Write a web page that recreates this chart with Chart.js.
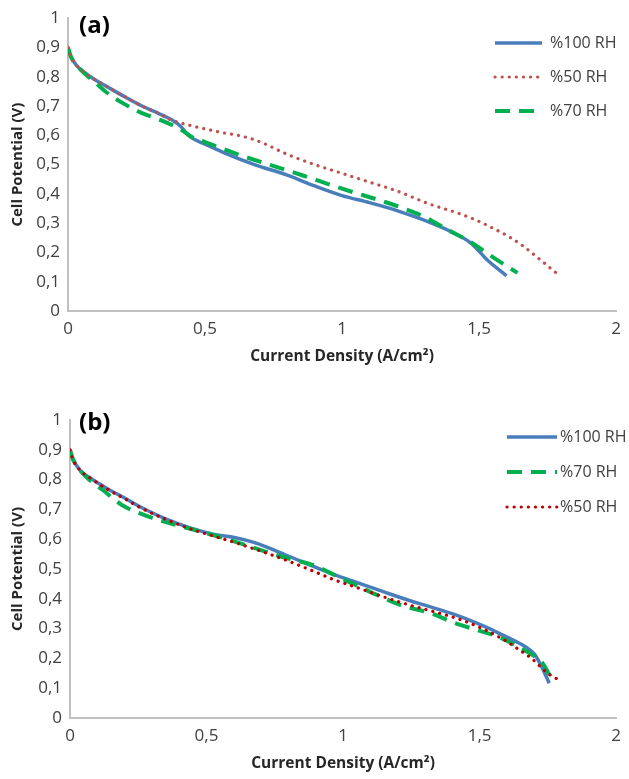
<!DOCTYPE html>
<html>
<head>
<meta charset="utf-8">
<script src="https://cdn.jsdelivr.net/npm/chart.js@4"></script>
<style>
  html, body { margin: 0; padding: 0; background: #fff; }
  .box { position: absolute; left: 0; width: 629px; }
  #boxA { top: 0; height: 375px; }
  #boxB { top: 380px; height: 399px; }
</style>
</head>
<body>
<div class="box" id="boxA"><canvas id="chartA" width="629" height="375"></canvas></div>
<div class="box" id="boxB"><canvas id="chartB" width="629" height="399"></canvas></div>
<script>
// panel (a)
const rh100A_x = [0, 0.01, 0.03, 0.06, 0.09, 0.15, 0.21, 0.27, 0.33, 0.38, 0.41, 0.43, 0.45, 0.5, 0.57, 0.68, 0.8, 0.9, 1.0, 1.1, 1.2, 1.3, 1.4, 1.47, 1.53, 1.6];
const rh100A_y = [0.90, 0.87, 0.84, 0.815, 0.795, 0.762, 0.73, 0.70, 0.675, 0.652, 0.632, 0.61, 0.592, 0.57, 0.54, 0.50, 0.464, 0.427, 0.394, 0.37, 0.343, 0.31, 0.27, 0.232, 0.174, 0.12];
const rh50A_x = [0, 0.01, 0.03, 0.06, 0.09, 0.15, 0.21, 0.27, 0.33, 0.37, 0.44, 0.51, 0.57, 0.62, 0.67, 0.72, 0.8, 0.9, 1.0, 1.1, 1.2, 1.32, 1.42, 1.49, 1.55, 1.61, 1.66, 1.71, 1.79];
const rh50A_y = [0.90, 0.87, 0.84, 0.815, 0.795, 0.762, 0.73, 0.70, 0.675, 0.655, 0.635, 0.62, 0.608, 0.60, 0.588, 0.57, 0.535, 0.50, 0.47, 0.44, 0.41, 0.365, 0.335, 0.31, 0.283, 0.253, 0.222, 0.185, 0.123];
const rh70A_x = [0, 0.01, 0.03, 0.06, 0.1, 0.14, 0.2, 0.27, 0.33, 0.38, 0.42, 0.45, 0.5, 0.62, 0.74, 0.86, 0.95, 1.04, 1.13, 1.22, 1.3, 1.38, 1.47, 1.55, 1.64];
const rh70A_y = [0.90, 0.87, 0.84, 0.812, 0.78, 0.747, 0.71, 0.676, 0.655, 0.635, 0.615, 0.595, 0.577, 0.535, 0.498, 0.462, 0.433, 0.406, 0.38, 0.352, 0.322, 0.28, 0.235, 0.184, 0.13];

// panel (b)
const rh100B_x = [0, 0.01, 0.036, 0.07, 0.14, 0.2, 0.26, 0.35, 0.44, 0.52, 0.61, 0.67, 0.73, 0.79, 0.88, 0.97, 1.06, 1.15, 1.24, 1.32, 1.4, 1.49, 1.57, 1.63, 1.67, 1.7, 1.72, 1.755];
const rh100B_y = [0.90, 0.87, 0.832, 0.808, 0.768, 0.738, 0.707, 0.668, 0.638, 0.618, 0.604, 0.59, 0.57, 0.547, 0.513, 0.48, 0.452, 0.423, 0.395, 0.373, 0.35, 0.318, 0.285, 0.258, 0.238, 0.215, 0.185, 0.117];
const rh70B_x = [0, 0.01, 0.036, 0.07, 0.12, 0.19, 0.28, 0.36, 0.44, 0.52, 0.61, 0.72, 0.8, 0.89, 0.98, 1.06, 1.14, 1.22, 1.32, 1.4, 1.49, 1.57, 1.65, 1.7, 1.73, 1.77];
const rh70B_y = [0.90, 0.87, 0.832, 0.8, 0.765, 0.715, 0.678, 0.655, 0.635, 0.615, 0.59, 0.557, 0.535, 0.513, 0.475, 0.44, 0.406, 0.376, 0.352, 0.322, 0.295, 0.272, 0.235, 0.208, 0.185, 0.12];
const rh50B_x = [0, 0.01, 0.036, 0.07, 0.14, 0.2, 0.26, 0.35, 0.44, 0.52, 0.61, 0.66, 0.72, 0.79, 0.88, 0.97, 1.06, 1.15, 1.24, 1.32, 1.43, 1.51, 1.59, 1.64, 1.69, 1.75, 1.79];
const rh50B_y = [0.90, 0.87, 0.832, 0.808, 0.766, 0.736, 0.705, 0.667, 0.635, 0.612, 0.587, 0.572, 0.553, 0.53, 0.497, 0.463, 0.435, 0.406, 0.38, 0.36, 0.33, 0.30, 0.262, 0.232, 0.2, 0.15, 0.128];

const xTicks = [0, 0.5, 1, 1.5, 2];
const yTicks = [0, 0.1, 0.2, 0.3, 0.4, 0.5, 0.6, 0.7, 0.8, 0.9, 1];

const pts = (xs, ys) => xs.map((x, i) => ({ x, y: ys[i] }));
const fmt = v => String(Math.round(v * 10) / 10).replace('.', ',');

const styles = {
    '%100 RH': { borderColor: '#4a7ebb', borderWidth: 3.5, borderDash: [], borderCapStyle: 'butt', order: 2 },
    '%50 RH': { borderColor: '#c0504d', borderWidth: 3.2, borderDash: [0.1, 7], borderCapStyle: 'round', order: 0 },
    '%70 RH': { borderColor: '#00b050', borderWidth: 4, borderDash: [15, 9], borderCapStyle: 'butt', order: 1 }
};

function series(label, xs, ys, color) {
    const s = styles[label];
    return {
        label,
        data: pts(xs, ys),
        showLine: true,
        pointRadius: 0,
        fill: false,
        order: s.order,
        cubicInterpolationMode: 'monotone',
        borderColor: color || s.borderColor,
        borderWidth: s.borderWidth,
        borderDash: s.borderDash,
        borderCapStyle: s.borderCapStyle
    };
}

const boxLegend = {
    id: 'boxLegend',
    afterDraw(chart, args, o) {
        const ctx = chart.ctx;
        ctx.save();
        chart.data.datasets.forEach((ds, i) => {
            const y = o.y0 + i * o.gap;
            ctx.beginPath();
            ctx.setLineDash(ds.borderDash || []);
            ctx.lineCap = ds.borderCapStyle;
            ctx.strokeStyle = ds.borderColor;
            ctx.lineWidth = ds.borderWidth;
            ctx.moveTo(o.x0, y);
            ctx.lineTo(o.x1, y);
            ctx.stroke();
            ctx.setLineDash([]);
            ctx.fillStyle = '#404040';
            ctx.font = '16px "Open Sans"';
            ctx.textAlign = 'left';
            ctx.textBaseline = 'middle';
            ctx.fillText(ds.label, o.tx, y);
        });
        ctx.font = 'bold 24px "Open Sans"';
        ctx.fillStyle = '#000';
        ctx.textBaseline = 'middle';
        ctx.fillText(o.tag, 79, o.tagY);
        ctx.restore();
    }
};

function makeChart(id, datasets, cfg) {
    new Chart(document.getElementById(id), {
        type: 'scatter',
        data: { datasets },
        plugins: [boxLegend],
        options: {
            responsive: false,
            animation: false,
            layout: { padding: { top: cfg.top, right: cfg.right, left: 0, bottom: 0 } },
            plugins: {
                legend: { display: false },
                tooltip: { enabled: false },
                boxLegend: cfg.legend
            },
            scales: {
                x: {
                    type: 'linear', min: 0, max: 2,
                    afterBuildTicks: s => { s.ticks = xTicks.map(v => ({ value: v })); },
                    afterFit: s => { s.height = cfg.xh; },
                    ticks: { padding: 8, color: '#404040', font: { family: 'Open Sans', size: 17 }, callback: fmt, maxRotation: 0 },
                    grid: { display: false, drawTicks: false },
                    border: { display: true, color: '#c0c0c0', width: 2 },
                    title: {
                        display: true, text: 'Current Density (A/cm²)', color: '#262626',
                        font: { family: 'Open Sans', size: 15.5, weight: 'bold' },
                        padding: { top: 0, bottom: cfg.xtb }
                    }
                },
                y: {
                    type: 'linear', min: 0, max: 1,
                    afterBuildTicks: s => { s.ticks = yTicks.map(v => ({ value: v })); },
                    afterFit: s => { s.width = cfg.yw; },
                    ticks: { padding: 8, color: '#404040', font: { family: 'Open Sans', size: 17 }, callback: fmt },
                    grid: { display: false, drawTicks: false },
                    border: { display: true, color: '#c0c0c0', width: 2 },
                    title: {
                        display: true, text: 'Cell Potential (V)', color: '#262626',
                        font: { family: 'Open Sans', size: 15, weight: 'bold' },
                        padding: { top: 9, bottom: 0 }
                    }
                }
            }
        }
    });
}

makeChart('chartA', [
    series('%100 RH', rh100A_x, rh100A_y),
    series('%50 RH', rh50A_x, rh50A_y),
    series('%70 RH', rh70A_x, rh70A_y)
], {
    top: 18, right: 4, yw: 68, xh: 64, xtb: 9.5,
    legend: { x0: 495, x1: 542, tx: 550, y0: 43, gap: 34, tag: '(a)', tagY: 26 }
});

makeChart('chartB', [
    series('%100 RH', rh100B_x, rh100B_y),
    series('%70 RH', rh70B_x, rh70B_y),
    series('%50 RH', rh50B_x, rh50B_y, '#c00000')
], {
    top: 40, right: 3, yw: 70, xh: 61, xtb: 6.5,
    legend: { x0: 507, x1: 557, tx: 560, y0: 57, gap: 35, tag: '(b)', tagY: 43 }
});
</script>
</body>
</html>
